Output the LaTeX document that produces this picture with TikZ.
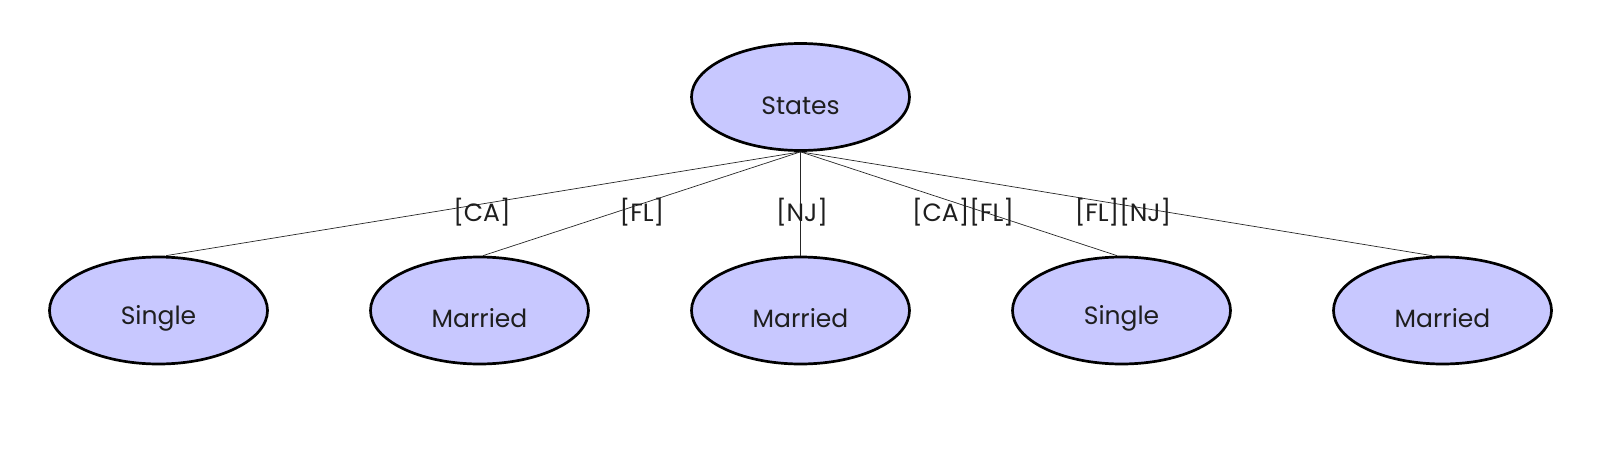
\documentclass[tikz,border=0pt]{standalone}
\usepackage{fontspec}
\setmainfont{Poppins}
\usetikzlibrary{shapes.geometric}
\definecolor{nodefill}{RGB}{200,200,255}
\definecolor{txt}{RGB}{30,30,30}
\tikzset{
  state/.style={ellipse, draw=black, line width=2.7pt, fill=nodefill,
    minimum width=218pt, minimum height=107pt, inner sep=0pt,
    text height=34.5pt,
    font=\fontsize{25}{28}\selectfont, text=txt},
  edge/.style={draw=black!85, line width=0.7pt},
  elabel/.style={font=\fontsize{25}{28}\selectfont, text=txt, inner sep=0pt}
}
\begin{document}
\begin{tikzpicture}[x=1pt,y=-1pt]
\useasboundingbox (0,0) rectangle (1602,460);
\coordinate (t1) at (166,256);
\coordinate (t2) at (483,256);
\coordinate (t4) at (1117,256);
\coordinate (t5) at (1432,256);
\node[state] (root) at (800.5,97) {States};
\node[state] (l1) at (158.5,310.5) {Single};
\node[state] (l2) at (479.5,310.5) {Married};
\node[state] (l3) at (800.5,310.5) {Married};
\node[state] (l4) at (1121.5,310.5) {Single};
\node[state] (l5) at (1442.5,310.5) {Married};
\draw[edge] (root.south) -- (l1.north -| t1);
\draw[edge] (root.south) -- (l2.north -| t2);
\draw[edge] (root.south) -- (l3.north);
\draw[edge] (root.south) -- (l4.north -| t4);
\draw[edge] (root.south) -- (l5.north -| t5);
\node[elabel] (c1) at (482,212) {[CA]};
\node[elabel] (c2) at (642,212) {[FL]};
\node[elabel] (c3) at (802,212) {[NJ]};
\node[elabel] (c4) at (963,212) {[CA][FL]};
\node[elabel] (c5) at (1123,212) {[FL][NJ]};
\end{tikzpicture}
\end{document}
